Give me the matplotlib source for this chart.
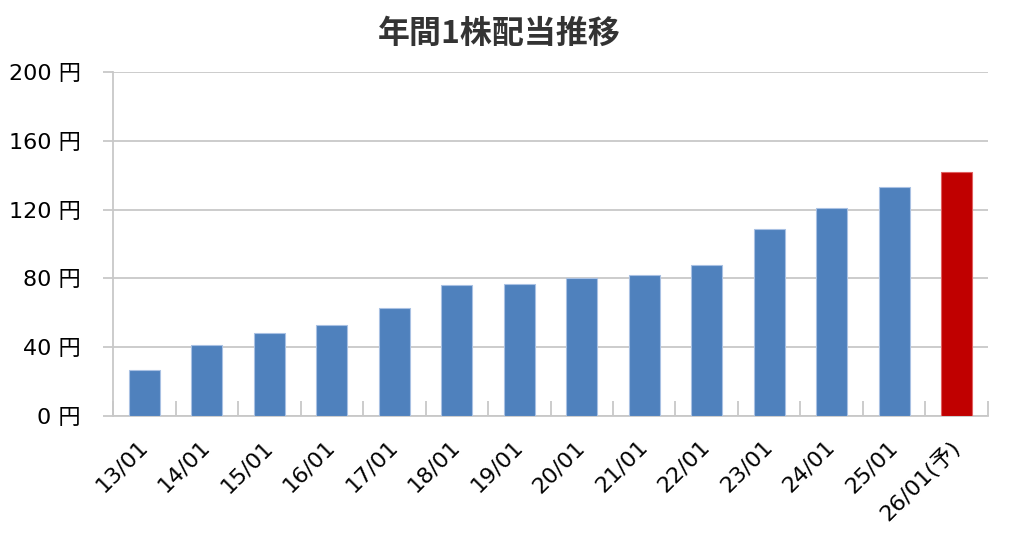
import matplotlib
matplotlib.use("Agg")
import matplotlib.pyplot as plt
import numpy as np

categories = ["13/01", "14/01", "15/01", "16/01", "17/01", "18/01", "19/01",
              "20/01", "21/01", "22/01", "23/01", "24/01", "25/01", "26/01(予)"]
dividends = [27, 41, 48, 53, 63, 76, 77, 80, 82, 88, 109, 121, 133, 142]
forecast_flags = [False] * 13 + [True]
yticks = [0, 40, 80, 120, 160, 200]
title = "年間1株配当推移"

plt.rcParams['font.family'] = ['DejaVu Sans', 'Noto Sans CJK JP']

fig = plt.figure(figsize=(10.24, 5.45), dpi=100)
ax = fig.add_axes([0.1104, 0.2367, 0.8544, 0.6312])

x = np.arange(len(categories))
colors = ["#C00000" if f else "#4F81BD" for f in forecast_flags]
edges = ["#E06060" if f else "#A9C1E3" for f in forecast_flags]
ax.bar(x, dividends, width=0.5, color=colors, edgecolor=edges, linewidth=0.8, zorder=3)

ax.set_xlim(-0.5, len(categories) - 0.5)
ax.set_ylim(0, 200)
ax.set_yticks(yticks)
ax.set_yticklabels([f"{v} 円" for v in yticks], fontsize=16, color="#000000")
ax.yaxis.grid(True, color="#C8C8C8", linewidth=1.3, zorder=0)
ax.tick_params(axis='y', length=7, width=1.3, color="#C8C8C8", pad=16)

ax.set_xticks(x)
ax.set_xticklabels(categories, rotation=45, ha='right', va='center',
                   rotation_mode='anchor', fontsize=16)
ax.tick_params(axis='x', length=0, pad=20)
ax.set_xticks(np.arange(len(categories) + 1) - 0.5, minor=True)
ax.tick_params(axis='x', which='minor', direction='in', length=11, width=1.3, color="#C8C8C8")

for s in ['top', 'right']:
    ax.spines[s].set_visible(False)
for s in ['left', 'bottom']:
    ax.spines[s].set_color("#C8C8C8")
    ax.spines[s].set_linewidth(1.3)

fig.text(0.488, 0.937, title, ha='center', va='center', fontsize=23,
         fontweight='bold', color="#333333", family=['Noto Sans CJK JP'])

fig.savefig("out.png", dpi=100)
